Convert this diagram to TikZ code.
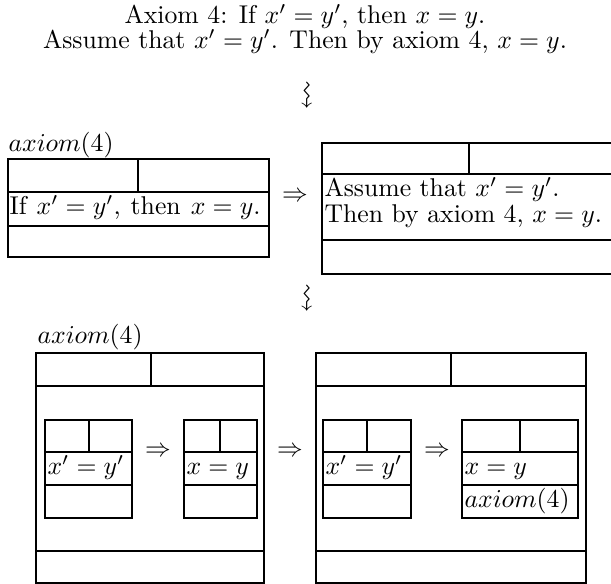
\documentclass[tikz,border=0pt]{standalone}
\usepackage{amssymb}
\usepackage{graphicx}
\begin{document}
\begin{tikzpicture}[x=0.389pt,y=-0.389pt,
  thinln/.style={line width=0.45pt},
  thickln/.style={line width=0.65pt},
  ltxt/.style={inner sep=0pt,anchor=base west},
  ctxt/.style={inner sep=0pt,anchor=base},
  imp/.style={inner sep=0pt,anchor=center}]
\useasboundingbox (0,0) rectangle (611,584);
\clip (0,0) rectangle (611,584);
% header text
\node[ctxt] (t1) at (305,24) {Axiom 4: If $x'=y'$, then $x=y$.};
\node[ctxt] (t2) at (305,49) {Assume that $x'=y'$. Then by axiom 4, $x=y$.};
\node[imp] (sq1) at (305,95) {\scalebox{1.15}{\rotatebox{-90}{$\leadsto$}}};
% top row
\node[ltxt] (lab1) at (8,152) {$axiom(4)$};
\draw[thinln] (8,159) rectangle (269,257);
\draw[thinln] (8,192) -- (269,192) (8,226) -- (269,226) (138,159) -- (138,192);
\node[ltxt] (r1) at (9,215) {\spaceskip=3.9pt If $x'=y'$, then $x=y$.};
\node[imp] (i1) at (295,197) {$\Rightarrow$};
\draw[thinln] (322,143) rectangle (640,274);
\draw[thinln] (322,174) -- (640,174) (322,240) -- (640,240) (469,143) -- (469,174);
\node[ltxt] (r2a) at (324,197) {Assume that $x'=y'$.};
\node[ltxt] (r2b) at (324,223) {Then by axiom 4, $x=y$.};
\node[imp] (sq2) at (305,298) {\scalebox{1.15}{\rotatebox{-90}{$\leadsto$}}};
% bottom row
\node[ltxt] (lab2) at (37,344) {$axiom(4)$};
\draw[thickln] (36,353) rectangle (264,583);
\draw[thickln] (36,386) -- (264,386) (36,551) -- (264,551) (151,353) -- (151,386);
% inner A
\draw[thickln] (45,420) rectangle (132,518);
\draw[thickln] (45,452) -- (132,452) (45,485) -- (132,485) (89,420) -- (89,452);
\node[ltxt] (a1) at (47,475) {$x'=y'$};
\node[imp] (i2) at (158,452) {$\Rightarrow$};
% inner B
\draw[thickln] (184,420) rectangle (257,518);
\draw[thickln] (184,452) -- (257,452) (184,485) -- (257,485) (220,420) -- (220,452);
\node[ltxt] (b1) at (186,475) {$x=y$};
\node[imp] (i3) at (290,452) {$\Rightarrow$};
% right big box
\draw[thickln] (316,353) rectangle (586,583);
\draw[thickln] (316,386) -- (586,386) (316,551) -- (586,551) (451,353) -- (451,386);
% inner C
\draw[thickln] (323,420) rectangle (411,518);
\draw[thickln] (323,452) -- (411,452) (323,485) -- (411,485) (367,420) -- (367,452);
\node[ltxt] (c1) at (325,475) {$x'=y'$};
\node[imp] (i4) at (437,452) {$\Rightarrow$};
% inner D
\draw[thickln] (462,420) rectangle (578,518);
\draw[thickln] (462,452) -- (578,452) (462,485) -- (578,485) (520,420) -- (520,452);
\node[ltxt] (d1) at (464,475) {$x=y$};
\node[ltxt] (d2) at (464,508) {$axiom(4)$};
\end{tikzpicture}
\end{document}
